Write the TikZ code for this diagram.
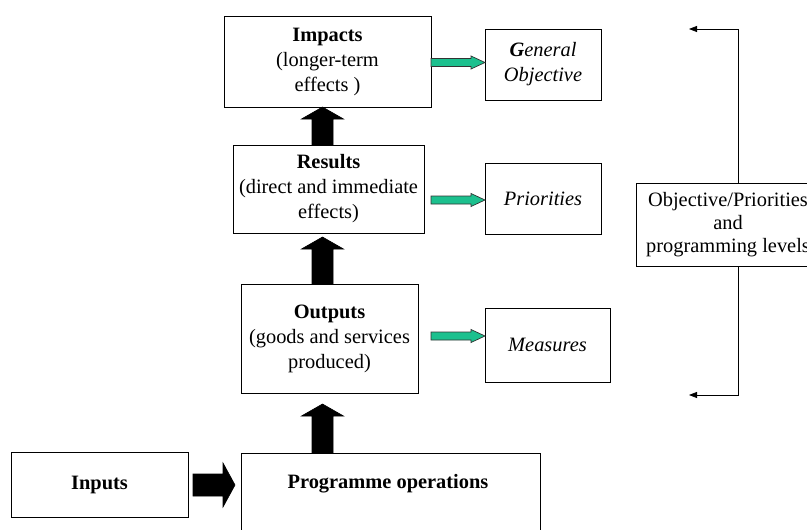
\documentclass[tikz,border=0pt]{standalone}
\usepackage{fontspec}
\setmainfont{Liberation Serif}
\usetikzlibrary{calc,arrows.meta}
\definecolor{arrowgreen}{RGB}{28,192,142}
\newcommand{\uparr}[3]{% x, ybottom, ytip
  \filldraw[blackarrow] (#1-10.5,#2) -- (#1-10.5,#3+12) -- (#1-21,#3+12) -- (#1,#3) -- (#1+21,#3+12) -- (#1+10.5,#3+12) -- (#1+10.5,#2) -- cycle;}
\newcommand{\rarr}[7]{% style, x0, xtip, y, halfshaft, halfhead, headlen
  \filldraw[#1] (#2,#4-#5) -- (#3-#7,#4-#5) -- (#3-#7,#4-#6) -- (#3,#4) -- (#3-#7,#4+#6) -- (#3-#7,#4+#5) -- (#2,#4+#5) -- cycle;}
\begin{document}
\begin{tikzpicture}[x=1pt,y=-1pt,
  box/.style={draw, line width=0.8pt, inner sep=0pt, align=center,
    font=\fontsize{20.4}{25}\selectfont},
  blackarrow/.style={fill=black, draw=black, line width=0.6pt},
  greenarrow/.style={fill=arrowgreen, draw=black!80, line width=0.7pt},
  conn/.style={line width=0.8pt, -{Triangle[length=8pt,width=6pt]}}]
\clip (0,0) rectangle (807,530);
\fill[white] (0,0) rectangle (807,530);
% boxes
\node[box, minimum width=207pt, minimum height=91pt] (imp) at (327.5,61.5)
  {\textbf{Impacts}\\(longer-term\\effects )};
\node[box, minimum width=191pt, minimum height=88pt] (res) at (328.5,189)
  {\textbf{Results}\\(direct and immediate\\effects)};
\node[box, minimum width=177pt, minimum height=109pt] (out) at (329.5,338.5)
  {\textbf{Outputs}\\(goods and services\\produced)};
\node[box, minimum width=299pt, minimum height=90pt, anchor=north] (prog) at (390.5,453) {};
\node[font=\fontsize{20.4}{25}\selectfont\bfseries] (progtxt) at (388,484) {Programme operations};
\node[box, minimum width=177pt, minimum height=65pt] (inp) at (99.5,484.5) {\textbf{Inputs}};
\node[box, minimum width=116pt, minimum height=71pt] (go) at (543,64.5)
  {\textbf{\textit{G}}\textit{eneral}\\\textit{Objective}};
\node[box, minimum width=116pt, minimum height=71pt] (pri) at (543,198.5) {\textit{Priorities}};
\node[box, minimum width=125pt, minimum height=74pt] (mea) at (547.5,345) {\textit{Measures}};
\node[box, minimum width=184pt, minimum height=83pt, font=\fontsize{20.4}{23}\selectfont] (obj) at (728,224.5)
  {Objective/Priorities\\and\\programming levels};
% black block arrows
\uparr{322.5}{145}{107}
\uparr{322.5}{284}{237}
\uparr{322.5}{453}{404}
\rarr{blackarrow}{193}{235}{485}{11}{22}{12}
% green arrows
\rarr{greenarrow}{431}{485}{62.5}{4}{6.5}{14}
\rarr{greenarrow}{431}{485}{200}{4}{6.5}{14}
\rarr{greenarrow}{431}{485}{336}{4}{6.5}{14}
% side connectors
\coordinate (ttop) at (689,29);
\coordinate (tbot) at (689,395);
\draw[conn] ($(obj.north)+(10,0)$) |- (ttop);
\draw[conn] ($(obj.south)+(10,0)$) |- (tbot);
\end{tikzpicture}
\end{document}
